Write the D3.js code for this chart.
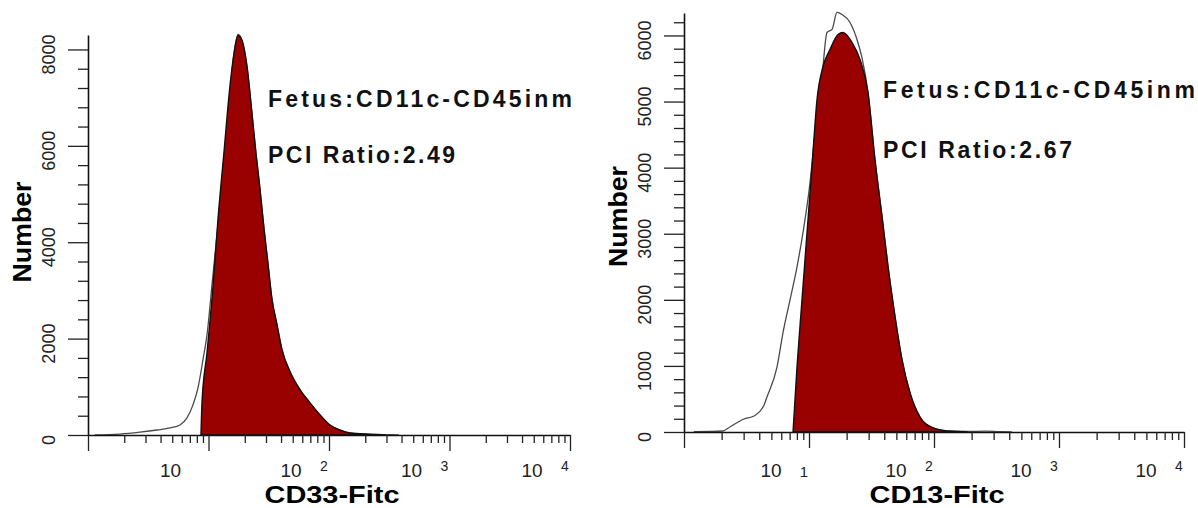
<!DOCTYPE html>
<html>
<head>
<meta charset="utf-8">
<script src="https://cdn.jsdelivr.net/npm/d3@7"></script>
<style>
  html, body { margin: 0; padding: 0; background: #fff; }
  svg { display: block; }
  text { font-family: "Liberation Sans", Arial, Helvetica, sans-serif; }
</style>
</head>
<body>
<svg id="chart" width="1198" height="508"></svg>
<script>
// ---- CD33 panel: open (control) histogram ----
const cd33OpenIntensity = [1.14, 1.84, 2.70, 3.74, 4.79, 5.80, 6.63, 7.43, 8.18, 9.0, 9.72, 10.7, 11.99, 13.45, 15.08, 16.28, 17.57, 18.97, 20.87, 22.96, 24.79, 26.74, 28.9, 31.2, 33.65, 37.0, 40.7, 47.5, 57.5, 69.5, 84.2, 101.9, 123, 149, 199, 260, 320, 380];
const cd33OpenCount     = [0, 20, 60, 104, 146, 208, 354, 625, 979, 1563, 2083, 3125, 4375, 5729, 7083, 7917, 8313, 8188, 7646, 6667, 5833, 5104, 4271, 3542, 2813, 2292, 1771, 1313, 938, 667, 417, 208, 104, 42, 20, 10, 8, 0];

// ---- CD33 panel: filled (stained) histogram ----
const cd33FillIntensity = [8.66, 8.83, 9.72, 10.9, 11.99, 13.45, 15.08, 16.28, 17.57, 18.97, 20.87, 22.96, 24.79, 26.74, 28.9, 31.2, 33.65, 37.0, 40.7, 47.5, 57.5, 69.5, 84.2, 101.9, 123, 149, 199, 292];
const cd33FillCount     = [0, 667, 1708, 3083, 4479, 5875, 7250, 7917, 8290, 8188, 7646, 6667, 5833, 5104, 4271, 3542, 2813, 2292, 1771, 1313, 938, 667, 417, 208, 104, 42, 20, 0];

// ---- CD13 panel: open (control) histogram ----
const cd13OpenIntensity = [1.2, 2.05, 2.33, 3.02, 3.63, 4.37, 4.61, 5.55, 6.19, 7.05, 8.02, 8.95, 10.19, 11.17, 12.71, 13.93, 15.28, 16.75, 18.37, 21.28, 24.21, 26.5, 29.65, 33.7, 38.4, 42.9, 48.8, 55.5, 64.3, 77.3, 98.2, 127, 184, 260, 330, 420];
const cd13OpenCount     = [5, 15, 76, 197, 242, 409, 530, 985, 1500, 2000, 2500, 3015, 3773, 4530, 5379, 6045, 6091, 6348, 6318, 6197, 5939, 5667, 5136, 4121, 3258, 2500, 1742, 1091, 591, 227, 61, 15, 8, 12, 5, 0];

// ---- CD13 panel: filled (stained) histogram ----
const cd13FillIntensity = [7.45, 8.02, 8.79, 9.64, 10.57, 11.59, 12.94, 14.72, 17.06, 18.71, 22.08, 25.59, 29.65, 33.7, 38.4, 42.9, 48.8, 55.5, 64.3, 77.3, 98.2, 127, 184];
const cd13FillCount     = [0, 985, 2000, 3015, 4015, 5030, 5530, 5788, 6015, 6045, 5894, 5636, 5136, 4121, 3258, 2500, 1742, 1091, 591, 227, 61, 15, 0];

// ---- axis ticks and labels ----
const xDecades = [1, 10, 100, 1000, 10000];
const xLabelDecades = [10, 100, 1000, 10000];
const cd33XTickLabels = ["10", "10^2", "10^3", "10^4"];
const cd13XTickLabels = ["10 1", "10^2", "10^3", "10^4"];
const cd33YMajor = [0, 2000, 4000, 6000, 8000];
const cd33YTickLabels = ["0", "2000", "4000", "6000", "8000"];
const cd13YMajor = [0, 1000, 2000, 3000, 4000, 5000, 6000];
const cd13YTickLabels = ["0", "1000", "2000", "3000", "4000", "5000", "6000"];
const cd33XTitle = "CD33-Fitc";
const cd13XTitle = "CD13-Fitc";
const yTitle = "Number";
const cd33Notes = ["Fetus:CD11c-CD45inm", "PCI Ratio:2.49"];
const cd13Notes = ["Fetus:CD11c-CD45inm", "PCI Ratio:2.67"];

// ---- layout of the two panels ----
const panels = [
  {
    left: 88, right: 570, base: 435, top: 35, yMax: 8300, yStep: 400,
    open: d3.zip(cd33OpenIntensity, cd33OpenCount),
    fill: d3.zip(cd33FillIntensity, cd33FillCount),
    yMajor: cd33YMajor, yLabels: cd33YTickLabels, xLabels: cd33XTickLabels,
    xTitle: cd33XTitle, notes: cd33Notes,
    noteX: 268, noteY: [107, 163], noteLen: [304, 187],
    titleDy: 0
  },
  {
    left: 684, right: 1184, base: 432, top: 13, yMax: 6340, yStep: 200,
    open: d3.zip(cd13OpenIntensity, cd13OpenCount),
    fill: d3.zip(cd13FillIntensity, cd13FillCount),
    yMajor: cd13YMajor, yLabels: cd13YTickLabels, xLabels: cd13XTickLabels,
    xTitle: cd13XTitle, notes: cd13Notes,
    noteX: 883, noteY: [98, 158], noteLen: [312, 189],
    titleDy: -3
  }
];

const svg = d3.select("#chart");

function drawPanel(p) {
  const g = svg.append("g");
  const x = d3.scaleLog().domain([1, 1e4]).range([p.left, p.right]);
  const y = d3.scaleLinear().domain([0, p.yMax]).range([p.base, p.top]);

  // open histogram outline
  const line = d3.line()
    .x(d => x(d[0])).y(d => y(d[1]))
    .curve(d3.curveMonotoneX);
  g.append("path")
    .datum(p.open)
    .attr("d", line)
    .attr("fill", "none")
    .attr("stroke", "#4a4a4a")
    .attr("stroke-width", 1.3);

  // filled histogram
  const area = d3.area()
    .x(d => x(d[0])).y0(y(0)).y1(d => y(d[1]))
    .curve(d3.curveMonotoneX);
  g.append("path")
    .datum(p.fill)
    .attr("d", area)
    .attr("fill", "#990000")
    .attr("stroke", "#111")
    .attr("stroke-width", 1.4)
    .attr("stroke-linejoin", "round");

  // y axis: minor + major ticks
  const yMinor = d3.range(0, p.yMax, p.yStep).filter(v => !p.yMajor.includes(v));
  g.append("g")
    .attr("transform", `translate(${p.left},0)`)
    .call(d3.axisLeft(y).tickValues(yMinor).tickSize(10).tickSizeOuter(0).tickFormat(""));
  const yMajorAxis = g.append("g")
    .attr("transform", `translate(${p.left},0)`)
    .call(d3.axisLeft(y).tickValues(p.yMajor).tickSize(20).tickSizeOuter(0).tickFormat(""));
  yMajorAxis.select(".domain").remove();

  // x axis: minor + major ticks (log)
  const xMinor = x.ticks().filter(v => !xDecades.includes(v));
  g.append("g")
    .attr("transform", `translate(0,${p.base})`)
    .call(d3.axisBottom(x).tickValues(xMinor).tickSize(8).tickSizeOuter(0).tickFormat(""));
  const xMajorAxis = g.append("g")
    .attr("transform", `translate(0,${p.base})`)
    .call(d3.axisBottom(x).tickValues(xDecades).tickSize(16).tickSizeOuter(0).tickFormat(""));
  xMajorAxis.select(".domain").remove();

  g.selectAll(".domain").attr("stroke", "#111").attr("stroke-width", 1.6);
  g.selectAll(".tick line").attr("stroke", "#222").attr("stroke-width", 1.3);

  // y tick labels (rotated)
  p.yMajor.forEach((v, i) => {
    g.append("text")
      .attr("transform", `translate(${p.left - 39},${y(v) + 5}) rotate(-90)`)
      .attr("text-anchor", "middle")
      .attr("dy", "0.35em")
      .attr("font-size", 18)
      .attr("fill", "#222")
      .text(p.yLabels[i]);
  });

  // x tick labels: "10" with exponent
  xLabelDecades.forEach((v, i) => {
    const lab = p.xLabels[i];
    const tx = x(v);
    let base = lab, sup = null, same = null;
    if (lab.includes("^")) [base, sup] = lab.split("^");
    else if (lab.includes(" ")) [base, same] = lab.split(" ");
    g.append("text")
      .attr("x", tx - 38).attr("y", 477)
      .attr("text-anchor", "middle")
      .attr("font-size", 19).attr("fill", "#222")
      .text(base);
    if (sup) {
      g.append("text")
        .attr("x", tx - 5).attr("y", 471)
        .attr("text-anchor", "middle")
        .attr("font-size", 14).attr("fill", "#222")
        .text(sup);
    }
    if (same) {
      g.append("text")
        .attr("x", tx - 5).attr("y", 477)
        .attr("text-anchor", "middle")
        .attr("font-size", 15).attr("fill", "#222")
        .text(same);
    }
  });

  // axis titles
  g.append("text")
    .attr("x", (p.left + p.right) / 2 + 3).attr("y", 503)
    .attr("text-anchor", "middle")
    .attr("font-size", 23).attr("font-weight", "bold")
    .attr("textLength", 135).attr("lengthAdjust", "spacingAndGlyphs")
    .text(p.xTitle);
  g.append("text")
    .attr("transform", `translate(${p.left - 66},${(p.top + p.base) / 2 - 3 + p.titleDy}) rotate(-90)`)
    .attr("text-anchor", "middle")
    .attr("dy", "0.36em")
    .attr("font-size", 25).attr("font-weight", "bold")
    .attr("textLength", 101).attr("lengthAdjust", "spacingAndGlyphs")
    .text(yTitle);

  // annotations
  p.notes.forEach((t, i) => {
    g.append("text")
      .attr("x", p.noteX).attr("y", p.noteY[i])
      .attr("font-size", 23).attr("font-weight", "bold")
      .attr("fill", "#111")
      .attr("textLength", p.noteLen[i]).attr("lengthAdjust", "spacing")
      .text(t);
  });
}

panels.forEach(drawPanel);
</script>
</body>
</html>
